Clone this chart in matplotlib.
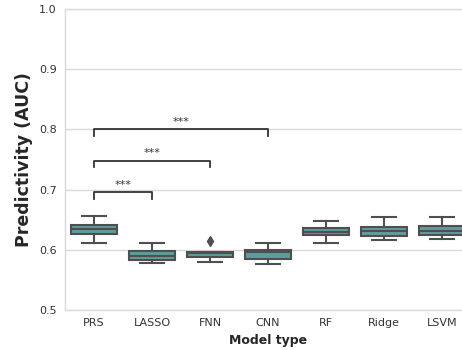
import matplotlib
matplotlib.use("Agg")
import matplotlib.pyplot as plt

models = ["PRS", "LASSO", "FNN", "CNN", "RF", "Ridge", "LSVM"]
whisker_low = [0.611, 0.578, 0.579, 0.576, 0.611, 0.616, 0.618]
q1 = [0.626, 0.583, 0.588, 0.584, 0.624, 0.623, 0.624]
medians = [0.634, 0.590, 0.594, 0.596, 0.630, 0.632, 0.632]
q3 = [0.641, 0.598, 0.597, 0.600, 0.637, 0.638, 0.640]
whisker_high = [0.656, 0.612, 0.597, 0.612, 0.648, 0.655, 0.655]
outliers = [[], [], [0.615], [], [], [], []]

# significance comparisons: (first model, second model, bracket height)
comparisons = [("PRS", "LASSO", 0.696), ("PRS", "FNN", 0.748), ("PRS", "CNN", 0.800)]
sig_label = "***"

fig = plt.figure(figsize=(4.62, 3.5), dpi=100)
ax = fig.add_axes([0.1407, 0.1143, 0.8788, 0.86])

stats = []
for i, m in enumerate(models):
    stats.append(dict(label=m, whislo=whisker_low[i], q1=q1[i], med=medians[i],
                      q3=q3[i], whishi=whisker_high[i], fliers=outliers[i]))

edge = "#4f4f4f"
face = "#5f9c9c"
ax.bxp(stats, positions=range(len(models)), widths=0.8, patch_artist=True,
       capwidths=0.4,
       boxprops=dict(facecolor=face, edgecolor=edge, linewidth=1.5),
       medianprops=dict(color=edge, linewidth=1.5),
       whiskerprops=dict(color=edge, linewidth=1.5),
       capprops=dict(color=edge, linewidth=1.5),
       flierprops=dict(marker="d", markerfacecolor=edge, markeredgecolor=edge,
                       markersize=5, linestyle="none"),
       zorder=3)

leg = 0.011
for a, b, h in comparisons:
    x1, x2 = models.index(a), models.index(b)
    ax.plot([x1, x1, x2, x2], [h - leg, h, h, h - leg], color="#333333",
            linewidth=1.3, zorder=4)
    ax.text((x1 + x2) / 2, h + 0.004, sig_label, ha="center", va="bottom",
            fontsize=8, color="#333333")

ax.set_xlim(-0.5, len(models) - 0.5)
ax.set_ylim(0.5, 1.0)
ax.set_yticks([0.5, 0.6, 0.7, 0.8, 0.9, 1.0])
ax.set_xticks(range(len(models)))
ax.set_xticklabels(models)
ax.tick_params(axis="both", length=0, labelsize=8, colors="#333333", pad=6)
ax.yaxis.grid(True, color="#d9d9d9", linewidth=1)
ax.set_axisbelow(True)
for s in ax.spines.values():
    s.set_color("#d9d9d9")
    s.set_linewidth(1)
ax.set_facecolor("white")

ax.set_xlabel("Model type", fontsize=9, fontweight="bold", color="#262626", labelpad=4)
ax.set_ylabel("Predictivity (AUC)", fontsize=12.5, fontweight="bold", color="#262626", labelpad=4)

fig.savefig("out.png", dpi=100)
